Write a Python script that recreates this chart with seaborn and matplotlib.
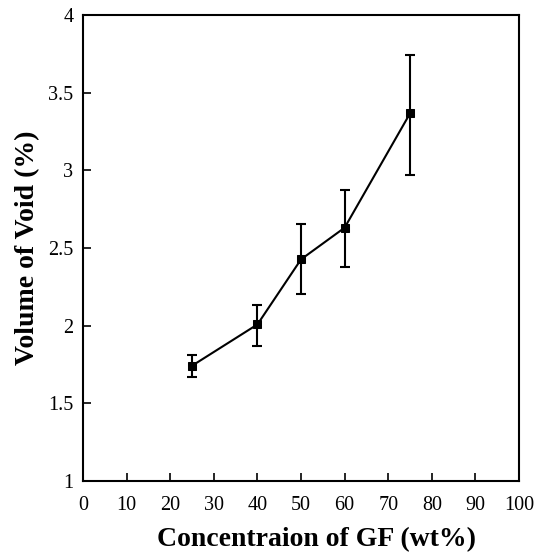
import matplotlib
matplotlib.use("Agg")
import matplotlib.pyplot as plt
import seaborn as sns
import numpy as np
import pandas as pd

conc = [25, 40, 50, 60, 75]
void = [1.742, 2.008, 2.427, 2.631, 3.367]
err_low = [1.671, 1.871, 2.204, 2.375, 2.972]
err_high = [1.811, 2.131, 2.652, 2.873, 3.745]
xticks = [0, 10, 20, 30, 40, 50, 60, 70, 80, 90, 100]
yticks = [1, 1.5, 2, 2.5, 3, 3.5, 4]
ytick_labels = ["1", "1.5", "2", "2.5", "3", "3.5", "4"]

sns.set_style("ticks")
plt.rcParams['font.family'] = ['Liberation Serif', 'DejaVu Serif']
plt.rcParams['text.color'] = 'black'
plt.rcParams['axes.labelcolor'] = 'black'

df = pd.DataFrame({"conc": conc, "void": void})

fig = plt.figure(figsize=(5.39, 5.58), dpi=100)
ax = fig.add_axes([0.154, 0.138, 0.809, 0.835])

yerr = np.array([np.array(void) - np.array(err_low), np.array(err_high) - np.array(void)])
ax.errorbar(conc, void, yerr=yerr, fmt="none", ecolor="black", elinewidth=1.5,
            capsize=3.5, capthick=1.5, zorder=2)
sns.lineplot(data=df, x="conc", y="void", ax=ax, color="black", linewidth=1.5,
             marker="s", markersize=6, markeredgecolor="black", markerfacecolor="black", zorder=3)

ax.set_xlim(0, 100)
ax.set_ylim(1, 4)
ax.set_xticks(xticks)
ax.set_xticklabels([str(t) for t in xticks])
ax.set_yticks(yticks)
ax.set_yticklabels(ytick_labels)
ax.tick_params(direction="in", length=6, width=1.2, labelsize=14.5, colors="black",
               top=False, right=False)
ax.tick_params(axis="x", pad=11)
ax.tick_params(axis="y", pad=7)
for s in ax.spines.values():
    s.set_linewidth(1.5)
    s.set_color("black")
    s.set_visible(True)

ax.set_xlabel("Concentraion of GF (wt%)", fontsize=20, fontweight="bold", labelpad=8, color="black")
ax.set_ylabel("Volume of Void (%)", fontsize=20, fontweight="bold", labelpad=6, color="black")
ax.xaxis.set_label_coords(0.535, -0.098)

fig.savefig("out.png", dpi=100)
